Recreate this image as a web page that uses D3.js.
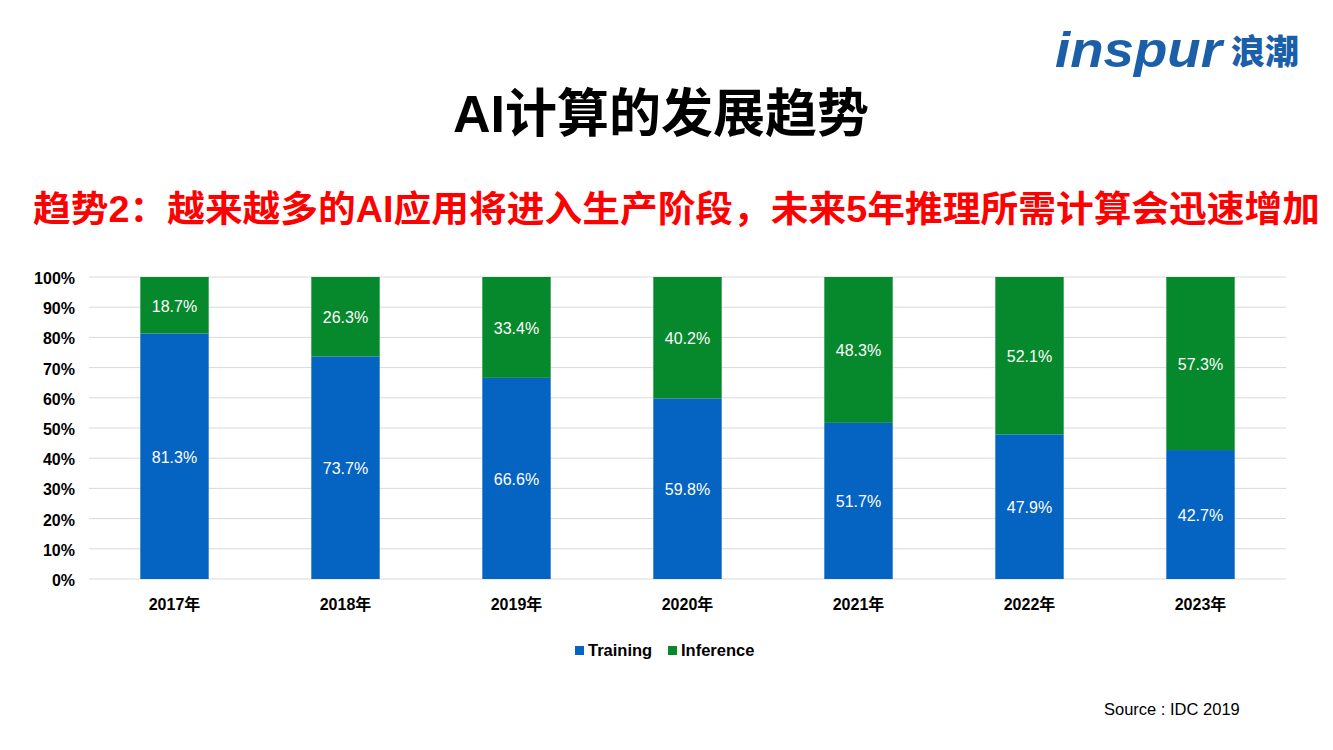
<!DOCTYPE html>
<html>
<head>
<meta charset="utf-8">
<script src="https://cdn.jsdelivr.net/npm/d3@7"></script>
<style>
    body { margin: 0; background: #ffffff; }
    svg text { font-family: Arial, "Liberation Sans", "Noto Sans CJK SC", sans-serif; }
</style>
</head>
<body>
<svg id="chart" width="1333" height="750"></svg>
<script>
var years = ["2017年", "2018年", "2019年", "2020年", "2021年", "2022年", "2023年"];
var training = [81.3, 73.7, 66.6, 59.8, 51.7, 47.9, 42.7];
var inference = [18.7, 26.3, 33.4, 40.2, 48.3, 52.1, 57.3];
var seriesNames = ["Training", "Inference"];
var yTicks = [0, 10, 20, 30, 40, 50, 60, 70, 80, 90, 100];

var colors = ["#0563C1", "#06892C"];

var svg = d3.select("#chart");

// logo
var logo = svg.append("g");
logo.append("text")
    .attr("x", 1055).attr("y", 67)
    .attr("fill", "#1B5FA8")
    .style("font-size", "50px")
    .style("font-weight", "900")
    .style("font-style", "italic")
    .attr("textLength", 167)
    .attr("lengthAdjust", "spacingAndGlyphs")
    .text("inspur");
logo.append("text")
    .attr("x", 1231).attr("y", 64)
    .attr("fill", "#1B5FA8")
    .style("font-family", "'Noto Sans CJK SC'")
    .style("font-size", "34px")
    .style("font-weight", "900")
    .text("浪潮");

// titles
svg.append("text")
    .attr("x", 661).attr("y", 132)
    .attr("text-anchor", "middle")
    .style("font-size", "52px")
    .style("font-weight", "bold")
    .attr("fill", "#000")
    .text("AI计算的发展趋势");

svg.append("text")
    .attr("x", 33).attr("y", 222)
    .attr("fill", "#FF0000")
    .style("font-size", "36px")
    .style("font-weight", "bold")
    .attr("textLength", 1287)
    .attr("lengthAdjust", "spacingAndGlyphs")
    .text("趋势2：越来越多的AI应用将进入生产阶段，未来5年推理所需计算会迅速增加");

// chart area
var plotLeft = 89, plotRight = 1286, plotTop = 277, plotBottom = 579;

var x = d3.scaleBand()
    .domain(years)
    .range([plotLeft, plotRight])
    .paddingInner(0.6)
    .paddingOuter(0.3);

var y = d3.scaleLinear()
    .domain([0, 100])
    .range([plotBottom, plotTop]);

// gridlines
svg.append("g")
    .selectAll("line")
    .data(yTicks)
    .enter()
        .append("line")
        .attr("x1", plotLeft).attr("x2", plotRight)
        .attr("y1", function(d){ return y(d); })
        .attr("y2", function(d){ return y(d); })
        .attr("stroke", "#D9D9D9")
        .attr("stroke-width", 1);

// y axis labels
var yAxis = svg.append("g")
    .attr("transform", "translate(" + plotLeft + ",0)")
    .call(d3.axisLeft(y).tickValues(yTicks).tickFormat(function(d){ return d + "%"; }).tickSize(0).tickPadding(14));
yAxis.select(".domain").remove();
yAxis.selectAll("text")
    .attr("dy", "0.4em")
    .style("font-size", "16px")
    .style("font-weight", "bold")
    .attr("fill", "#000");

// x axis labels
var xAxis = svg.append("g")
    .attr("transform", "translate(0," + plotBottom + ")")
    .call(d3.axisBottom(x).tickSize(0).tickPadding(20));
xAxis.select(".domain").remove();
xAxis.selectAll("text")
    .style("font-size", "16px")
    .style("font-weight", "bold")
    .attr("fill", "#000");

// stacked data
var rows = years.map(function(yr, i){
    return { year: yr, Training: training[i], Inference: inference[i] };
});
var stacked = d3.stack().keys(seriesNames)(rows);

var groups = svg.append("g")
    .selectAll("g")
    .data(stacked)
    .enter()
        .append("g")
        .attr("fill", function(d, i){ return colors[i]; });

groups.selectAll("rect")
    .data(function(d){ return d; })
    .enter()
        .append("rect")
        .attr("x", function(d){ return x(d.data.year); })
        .attr("width", x.bandwidth())
        .attr("y", function(d){ return y(d[1]); })
        .attr("height", function(d){ return y(d[0]) - y(d[1]); });

groups.selectAll("text")
    .data(function(d){ return d.map(function(p){ p.key = d.key; return p; }); })
    .enter()
        .append("text")
        .attr("x", function(d){ return x(d.data.year) + x.bandwidth() / 2; })
        .attr("y", function(d){ return (y(d[0]) + y(d[1])) / 2; })
        .attr("dy", "0.4em")
        .attr("text-anchor", "middle")
        .attr("fill", "#fff")
        .style("font-size", "16px")
        .text(function(d){ return d.data[d.key].toFixed(1) + "%"; });

// legend
var legendPos = [575, 668];
var legend = svg.append("g")
    .selectAll("g")
    .data(seriesNames)
    .enter()
        .append("g")
        .attr("transform", function(d, i){ return "translate(" + legendPos[i] + ",646)"; });
legend.append("rect")
    .attr("width", 9).attr("height", 9)
    .attr("fill", function(d, i){ return colors[i]; });
legend.append("text")
    .attr("x", 13).attr("y", 10)
    .style("font-size", "16.5px")
    .style("font-weight", "bold")
    .attr("fill", "#000")
    .text(function(d){ return d; });

// source
svg.append("text")
    .attr("x", 1104).attr("y", 715)
    .style("font-size", "16.5px")
    .attr("fill", "#000")
    .text("Source : IDC 2019");
</script>
</body>
</html>
